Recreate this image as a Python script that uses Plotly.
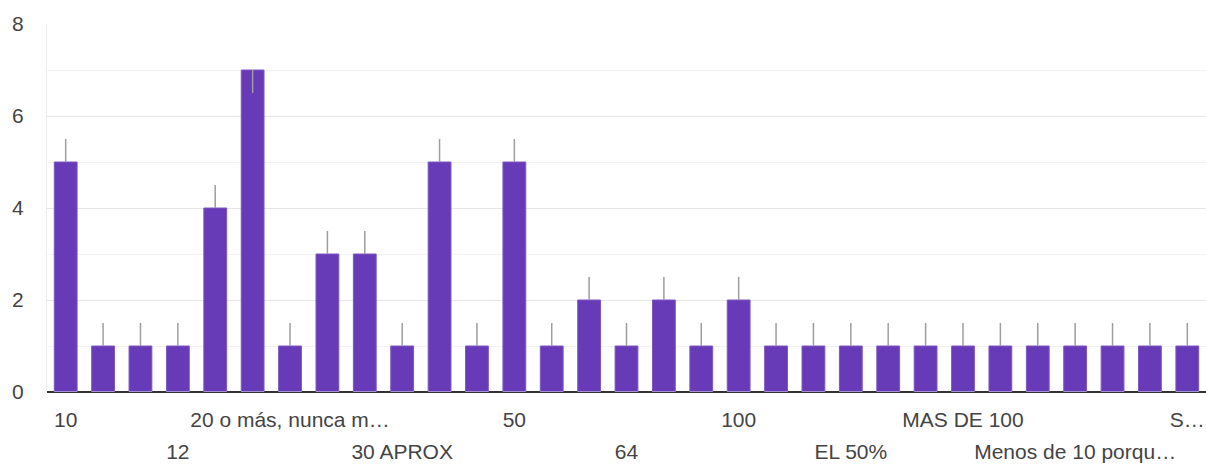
import plotly.graph_objects as go

categories = [
    "10", "10 aprox", "11", "12", "15", "20", "20 o más, nunca m…", "25", "30",
    "30 APROX", "40", "45", "50", "60", "62", "64", "70", "80", "100", "120",
    "DEPENDE", "EL 50%", "La mayoría", "Más de 50", "MAS DE 100", "Menos de 10",
    "Menos de 20", "Menos de 10 porqu…", "Muchos", "Ninguno", "S…",
]
counts = [5, 1, 1, 1, 4, 7, 1, 3, 3, 1, 5, 1, 5, 1, 2, 1, 2, 1, 2, 1,
          1, 1, 1, 1, 1, 1, 1, 1, 1, 1, 1]
err_plus = [0 if c >= 7 else 0.5 for c in counts]
err_minus = [0.5 if c >= 7 else 0 for c in counts]

row1_idx = [0, 6, 12, 18, 24, 30]
row2_idx = [3, 9, 15, 21, 27]
y_ticks = [0, 2, 4, 6, 8]

FONT = "'Liberation Sans', Arial, sans-serif"
TXT = "#444444"
FS = 21

fig = go.Figure()
fig.add_trace(go.Bar(
    x=categories, y=counts,
    marker=dict(color="#673ab7", line=dict(color="#7e57c2", width=1)),
    error_y=dict(type="data", symmetric=False, array=err_plus, arrayminus=err_minus,
                 color="#9e9e9e", thickness=1.5, width=0),
    showlegend=False,
))
fig.add_trace(go.Bar(x=categories, y=[0] * len(categories), xaxis="x2",
                     showlegend=False, hoverinfo="skip", marker_color="rgba(0,0,0,0)"))

fig.update_layout(
    width=1206, height=464,
    margin=dict(l=47, r=0, t=24, b=72),
    paper_bgcolor="white", plot_bgcolor="white",
    bargap=0.39,
    font=dict(family=FONT, size=FS, color=TXT),
    xaxis=dict(
        type="category", categoryorder="array", categoryarray=categories,
        range=[-0.5, len(categories) - 0.5],
        tickmode="array",
        tickvals=[categories[i] for i in row1_idx],
        ticktext=[categories[i] for i in row1_idx],
        ticks="", showgrid=False, zeroline=False, automargin=False,
        showline=False, ticklabelstandoff=13,
        tickfont=dict(size=FS, color=TXT, family=FONT),
    ),
    xaxis2=dict(
        type="category", categoryorder="array", categoryarray=categories,
        range=[-0.5, len(categories) - 0.5],
        overlaying="x", side="bottom", anchor="y",
        tickmode="array",
        tickvals=[categories[i] for i in row2_idx],
        ticktext=[categories[i] for i in row2_idx],
        ticks="", showgrid=False, zeroline=False, showline=False, automargin=False,
        ticklabelstandoff=45,
        tickfont=dict(size=FS, color=TXT, family=FONT),
    ),
    yaxis=dict(
        range=[0, 8], tickmode="array", tickvals=y_ticks,
        ticktext=[str(v) for v in y_ticks],
        showgrid=True, gridcolor="#e6e6e6", gridwidth=1,
        minor=dict(dtick=1, tick0=0, showgrid=True, gridcolor="#f3f3f3", gridwidth=1),
        zeroline=True, zerolinecolor="#333333", zerolinewidth=1.5,
        showline=True, linecolor="#eeeeee", linewidth=1, automargin=False,
        ticks="", ticklabelstandoff=18,
        tickfont=dict(size=FS, color=TXT, family=FONT),
    ),
)

fig.write_html("out.html", config={"displayModeBar": False},
               post_script="document.body.style.margin='0px';document.body.style.overflow='hidden';")
